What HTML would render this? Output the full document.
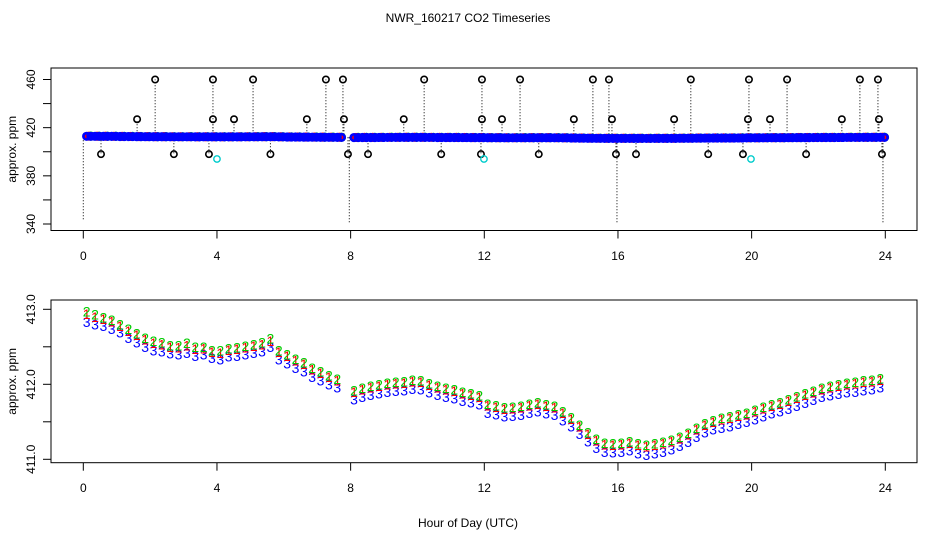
<!DOCTYPE html>
<html><head><meta charset="utf-8"><style>
html,body{margin:0;padding:0;background:#fff;}
svg{display:block;font-family:"Liberation Sans",sans-serif;}
</style></head><body>
<svg id="chart" width="936" height="540" viewBox="0 0 936 540">
<text x="468" y="22" text-anchor="middle" font-size="12">NWR_160217  CO2 Timeseries</text>
<text x="468" y="527" text-anchor="middle" font-size="12">Hour of Day (UTC)</text>
<g id="top"></g>
<g id="bot"></g>
</svg>
<script>
// ---- data ----
const hourStart = 0.1, hourStep = 0.25;
const blueVals = [412.83,412.80,412.78,412.74,412.69,412.62,412.56,412.50,412.45,412.44,412.41,412.40,412.42,412.38,412.40,412.35,
412.33,412.37,412.38,412.40,412.42,412.44,412.50,412.33,412.28,412.22,412.17,412.10,412.05,412.00,411.96,null,
411.80,411.83,411.86,411.88,411.90,411.91,411.92,411.94,411.93,411.89,411.86,411.83,411.81,411.78,411.76,411.73,
411.62,411.60,411.57,411.58,411.59,411.62,411.64,411.61,411.59,411.52,411.44,411.34,411.24,411.15,411.10,411.09,
411.10,411.12,411.08,411.06,411.08,411.10,411.13,411.18,411.23,411.30,411.36,411.40,411.42,411.44,411.47,411.50,
411.53,411.57,411.61,411.64,411.67,411.71,411.75,411.79,411.83,411.85,411.87,411.89,411.90,411.92,411.93,411.96];
const greenVals = [412.97,412.93,412.89,412.86,412.80,412.74,412.68,412.62,412.58,412.56,412.52,412.52,412.55,412.50,412.50,412.45,
412.45,412.48,412.49,412.51,412.53,412.56,412.61,412.45,412.40,412.34,412.29,412.22,412.17,412.12,412.07,null,
411.92,411.95,411.98,412.00,412.02,412.03,412.04,412.06,412.05,412.01,411.98,411.95,411.93,411.90,411.88,411.85,
411.74,411.72,411.69,411.70,411.71,411.74,411.76,411.73,411.71,411.64,411.56,411.46,411.36,411.27,411.22,411.21,
411.22,411.24,411.21,411.19,411.21,411.23,411.26,411.30,411.35,411.42,411.48,411.52,411.55,411.57,411.60,411.62,
411.66,411.70,411.73,411.76,411.80,411.84,411.88,411.91,411.95,411.98,412.00,412.02,412.03,412.05,412.06,412.08];
const redVals = [412.94,412.90,412.87,412.84,412.78,412.71,412.66,412.60,412.55,412.53,412.50,412.49,412.52,412.47,412.48,412.43,
412.42,412.46,412.47,412.49,412.51,412.53,412.58,412.43,412.38,412.32,412.27,412.20,412.15,412.10,412.05,null,
411.90,411.93,411.96,411.98,412.00,412.01,412.02,412.04,412.03,411.99,411.96,411.93,411.91,411.88,411.86,411.83,
411.72,411.70,411.67,411.68,411.69,411.72,411.74,411.71,411.69,411.62,411.54,411.44,411.34,411.25,411.20,411.19,
411.20,411.22,411.19,411.17,411.19,411.21,411.24,411.28,411.33,411.40,411.46,411.50,411.53,411.55,411.58,411.60,
411.64,411.68,411.71,411.74,411.78,411.82,411.86,411.89,411.93,411.96,411.98,412.00,412.01,412.03,412.04,412.06];
const outHours = [2.15,3.88,5.08,7.26,7.77,10.2,11.93,13.07,15.25,15.73,18.18,19.92,21.06,23.24,23.78,
1.61,3.88,4.51,6.69,7.8,9.59,11.93,12.53,14.68,15.82,17.68,19.89,20.55,22.7,23.81,
0.53,2.71,3.76,5.6,7.92,8.52,10.71,11.9,13.63,15.94,16.54,18.7,19.74,21.63,23.9];
const outVals = [460,460,460,460,460,460,460,460,460,460,460,460,460,460,460,
427,427,427,427,427,427,427,427,427,427,427,427,427,427,427,
398,398,398,398,398,398,398,398,398,398,398,398,398,398,398];
const cyanHours = [4.0,11.99,19.98];
const cyanVals = [394,394,394];
const dropHours = [0.0,7.96,15.97,23.93];
const dropVals = [343,340,340,341];
const xTicks = [0,4,8,12,16,20,24];
const topTicks = [460,440,420,400,380,360,340];
const topLabels = ["460","","420","","380","","340"];
const botTicks = [413,412.5,412,411.5,411];
const botLabels = ["413.0","","412.0","","411.0"];

// ---- scales ----
const NS="http://www.w3.org/2000/svg";
const xS = h => 83.3 + h*(885.3-83.3)/24;
const yTop = v => 79.5 + (460-v)*(224-79.5)/120;
const yBot = v => 309.3 + (413-v)*75;
function mk(parent,tag,attrs){const e=document.createElementNS(NS,tag);for(const k in attrs)e.setAttribute(k,attrs[k]);parent.appendChild(e);return e;}

function frame(g, top, bottom, ticks, labels, yF, tickLblY, name){
  const box = mk(g,'rect',{x:51,y:top,width:866,height:bottom-top,fill:'none',stroke:'#000','stroke-width':1});
  
  
  ticks.forEach((t,i)=>{
    const y=yF(t);
    const tk=mk(g,'line',{x1:43,x2:51,y1:y,y2:y,stroke:'#000'});
    
    
    if(labels[i]){
      const tx=mk(g,'text',{x:0,y:0,'font-size':12,'text-anchor':'middle',transform:`translate(35,${y}) rotate(-90)`});
      tx.textContent=labels[i];
      
      
    }
  });
  xTicks.forEach(h=>{
    const x=xS(h);
    const tk=mk(g,'line',{x1:x,x2:x,y1:bottom,y2:bottom+8,stroke:'#000'});
    
    
    const tx=mk(g,'text',{x:x,y:tickLblY,'font-size':12,'text-anchor':'middle'});
    tx.textContent=String(h);
    
    
  });
  const yl=mk(g,'text',{x:0,y:0,'font-size':12,'text-anchor':'middle',transform:`translate(16,${(top+bottom)/2}) rotate(-90)`});
  yl.textContent='approx. ppm';
  
  
}

// ---- top panel ----
const gT=document.getElementById('top');
frame(gT,68,230.5,topTicks,topLabels,yTop,260,'top');
dropHours.forEach((h,i)=>{
  const l=mk(gT,'line',{x1:xS(h),x2:xS(h),y1:yTop(412),y2:yTop(dropVals[i]),stroke:'#000','stroke-dasharray':'1,2'});
  
  
});
outHours.forEach((h,i)=>{
  const l=mk(gT,'line',{x1:xS(h),x2:xS(h),y1:yTop(412),y2:yTop(outVals[i]),stroke:'#000','stroke-dasharray':'1,2'});
  
  
});
[[greenVals,'#0c0',0.5],[redVals,'#f00',0.25],[blueVals,'#00f',0],[blueVals,'#00f',0.5]].forEach(([arr,col,off])=>{
  arr.forEach((v,i)=>{
    if(v===null) return;
    const c=mk(gT,'circle',{cx:xS(hourStart+(i+off)*hourStep),cy:yTop(v),r:3.2,fill:col===' #00f'?col:'none',stroke:col,'stroke-width':2.8});
    
    
  });
});
outHours.forEach((h,i)=>{
  const c=mk(gT,'circle',{cx:xS(h),cy:yTop(outVals[i]),r:3.2,fill:'none',stroke:'#000','stroke-width':1.6});
  
  
});
cyanHours.forEach((h,i)=>{
  const c=mk(gT,'circle',{cx:xS(h),cy:yTop(cyanVals[i]),r:3.2,fill:'none',stroke:'#0cc','stroke-width':1.4});
  
  
});

// ---- bottom panel ----
const gB=document.getElementById('bot');
frame(gB,300,462.7,botTicks,botLabels,yBot,492,'bottom');
[[blueVals,'#00f','3'],[redVals,'#f00','1'],[greenVals,'#0c0','2']].forEach(([arr,col,ch])=>{
  arr.forEach((v,i)=>{
    if(v===null) return;
    const t=mk(gB,'text',{x:xS(hourStart+i*hourStep),y:yBot(v)+5,'font-size':14,'text-anchor':'middle',fill:col});
    t.textContent=ch;
    
    
  });
});
</script>
</body></html>
